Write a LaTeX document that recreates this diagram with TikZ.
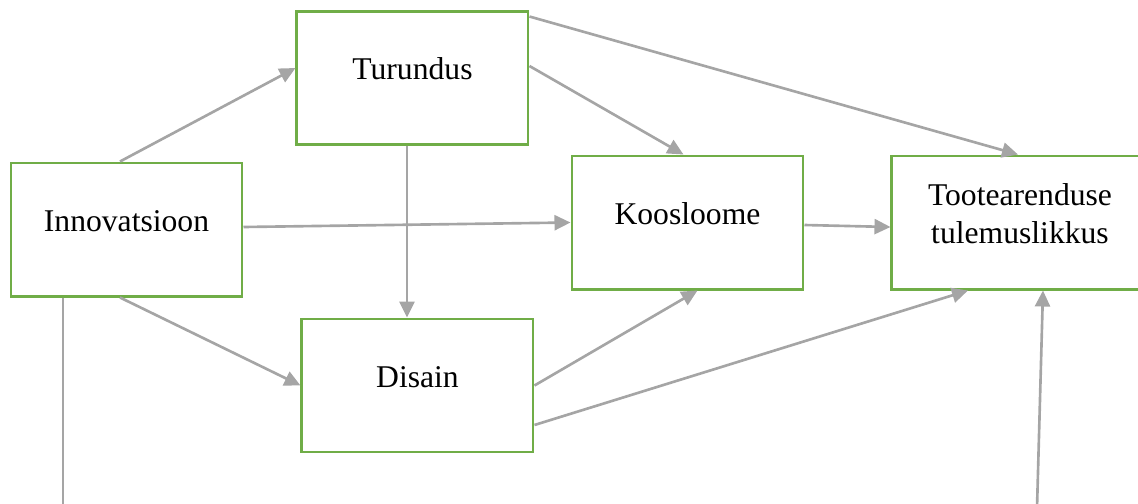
\documentclass[tikz,border=0pt]{standalone}
\usepackage{fontspec}
\setmainfont{Liberation Serif}
\usetikzlibrary{positioning,arrows.meta}
\definecolor{kastroheline}{RGB}{112,173,71}
\definecolor{noolehall}{RGB}{165,165,165}

\begin{document}
\begin{tikzpicture}[
        font=\fontsize{18}{21.6}\selectfont,
        tegur/.style={rectangle, draw=kastroheline, line width=1.7pt, minimum width=4.62cm, minimum height=2.66cm, align=center, text height=0.44cm, text depth=0.36cm},
        seos/.style={draw=noolehall, line width=1.5pt, -{Triangle[length=0.32cm, width=0.3cm]}},
        joon/.style={draw=noolehall, line width=1.5pt}
    ]
    \useasboundingbox (0,0) rectangle (22.76,10.06);

    % Tegurid
    \node[tegur] (innov) at (2.53,5.47) {Innovatsioon};
    \node[tegur, above right=0.32cm and 1.04cm of innov] (turundus) {Turundus};
    \node[tegur, below right=0.40cm and 1.14cm of innov] (disain) {Disain};
    \node[tegur, right=6.54cm of innov, yshift=0.14cm] (koosloome) {Koosloome};
    \node[tegur, right=1.72cm of koosloome, minimum width=5.12cm, text height=1.18cm, text depth=0.36cm] (tulemus) {Tootearenduse\\tulemuslikkus};

    % Seosed
    \draw[seos] ([xshift=-0.13cm]innov.north) -- ([yshift=0.19cm]turundus.west);
    \draw[seos] ([yshift=0.05cm]innov.east) -- (koosloome.west);
    \draw[seos] ([xshift=-0.13cm]innov.south) -- (disain.west);
    \draw[seos] ([xshift=-0.11cm]turundus.south) -- ([xshift=-0.11cm]turundus.south |- disain.north);
    \draw[seos] ([yshift=0.23cm]turundus.east) -- ([xshift=-0.08cm]koosloome.north);
    \draw[seos] ([yshift=-0.14cm]turundus.north east) -- ([xshift=-0.04cm]tulemus.north);
    \draw[seos] ([yshift=-0.05cm]koosloome.east) -- ([yshift=-0.09cm]tulemus.west);
    \draw[seos] (disain.east) -- ([xshift=0.2cm]koosloome.south);
    \draw[seos] ([yshift=-0.79cm]disain.east) -- ([xshift=-1.04cm]tulemus.south);

    % Alumised jooned
    \coordinate (jalgV) at (1.26,-0.1);
    \coordinate (jalgP) at (20.74,-0.1);
    \draw[joon] (jalgV |- innov.south) -- (jalgV);
    \draw[seos] (jalgP) -- ([xshift=0.46cm]tulemus.south);
\end{tikzpicture}
\end{document}
